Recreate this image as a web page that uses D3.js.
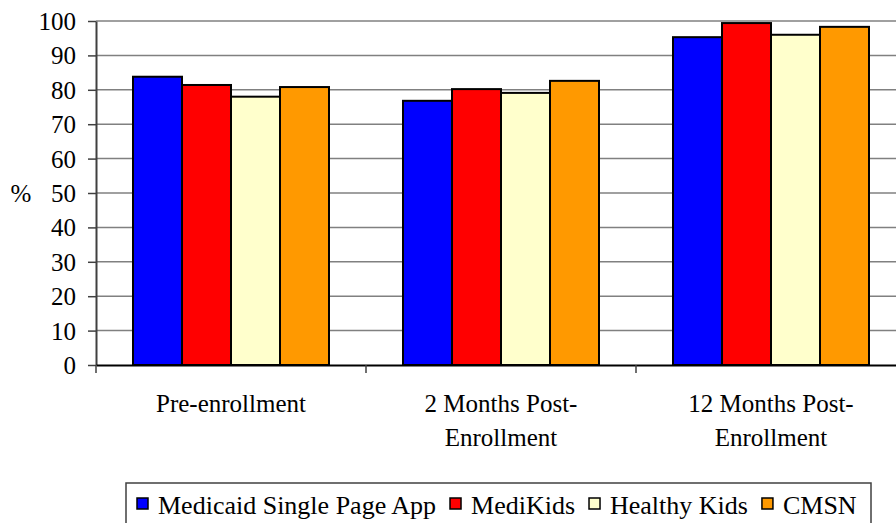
<!DOCTYPE html>
<html><head><meta charset="utf-8">
<script src="https://cdn.jsdelivr.net/npm/d3@7"></script>
<style>body{margin:0;background:#fff;font-family:"Liberation Serif",serif}text{font-family:"Liberation Serif",serif !important}</style>
</head><body>
<svg id="c" width="896" height="523" font-family="Liberation Serif"></svg>
<script>
const categories = [["Pre-enrollment"], ["2 Months Post-", "Enrollment"], ["12 Months Post-", "Enrollment"]];
const series = ["Medicaid Single Page App", "MediKids", "Healthy Kids", "CMSN"];
const colors = ["#0000FF", "#FF0000", "#FFFFCC", "#FF9900"];
const values = [
  [83.8, 81.4, 78.0, 80.8],
  [76.8, 80.2, 79.1, 82.6],
  [95.3, 99.4, 96.0, 98.3]
];
const yTicks = [0, 10, 20, 30, 40, 50, 60, 70, 80, 90, 100];

(function () {
const FF = "Liberation Serif";
const svg = d3.select("#c");
const mLeft = 96, mRight = 906, mTop = 21, mBottom = 365;
const catKeys = categories.map((c, i) => i);
const x0 = d3.scaleBand().domain(catKeys).range([mLeft, mRight]);
const x1 = d3.scaleBand().domain(series).range([0, x0.bandwidth()]).paddingOuter(0.755);
const y = d3.scaleLinear().domain([0, 100]).range([mBottom, mTop]);

// gridlines
svg.append("g").selectAll("line").data(yTicks.filter(d => d > 0)).join("line")
  .attr("x1", mLeft).attr("x2", 896).attr("y1", d => y(d)).attr("y2", d => y(d))
  .attr("stroke", "#808080").attr("stroke-width", 1.5);

// bars
const g = svg.append("g");
values.forEach((row, ci) => {
  g.append("g").selectAll("rect").data(row).join("rect")
    .attr("x", (d, si) => x0(ci) + x1(series[si]))
    .attr("y", d => y(d))
    .attr("width", x1.bandwidth())
    .attr("height", d => y(0) - y(d))
    .attr("fill", (d, si) => colors[si])
    .attr("stroke", "#000").attr("stroke-width", 2);
});

// y axis
const yAxis = d3.axisLeft(y).tickValues(yTicks).tickSize(8).tickPadding(12).tickSizeOuter(0);
const ya = svg.append("g").attr("transform", `translate(${mLeft},0)`).call(yAxis);
ya.attr("font-family", FF).attr("font-size", 25);
ya.select(".domain").attr("stroke", "#404040").attr("stroke-width", 2);
ya.selectAll(".tick line").attr("stroke", "#404040").attr("stroke-width", 1.5);
ya.selectAll("text").attr("font-family", FF).attr("font-size", 25).attr("fill", "#000").attr("dy", "0.34em");

// x axis
const xAxis = d3.axisBottom(x0).tickSize(0).tickFormat(() => "");
const xa = svg.append("g").attr("transform", `translate(0,${mBottom})`).call(xAxis);
xa.attr("font-family", FF);
xa.select(".domain").attr("stroke", "#000").attr("stroke-width", 2);
xa.selectAll(".tick").remove();
svg.append("g").selectAll("line").data(catKeys.concat([catKeys.length])).join("line")
  .attr("x1", d => mLeft + d * x0.step()).attr("x2", d => mLeft + d * x0.step())
  .attr("y1", mBottom).attr("y2", mBottom + 8).attr("stroke", "#404040").attr("stroke-width", 1.5);

// category labels
categories.forEach((lines, ci) => {
  const cx = x0(ci) + x0.bandwidth() / 2;
  const t = svg.append("text").attr("font-family", FF).attr("font-size", 25)
    .attr("text-anchor", "middle").attr("x", cx).attr("y", 412);
  lines.forEach((l, li) => t.append("tspan").attr("x", cx).attr("dy", li ? 34 : 0).text(l));
});

// y title
svg.append("text").attr("font-family", FF).attr("font-size", 25).attr("x", 21).attr("y", y(50))
  .attr("dy", "0.34em").attr("text-anchor", "middle").text("%");

// legend
const lg = svg.append("g");
lg.append("rect").attr("x", 126).attr("y", 483).attr("width", 745).attr("height", 60)
  .attr("fill", "#fff").attr("stroke", "#404040").attr("stroke-width", 1.5);
let lx = 137;
series.forEach((s, i) => {
  lg.append("rect").attr("x", lx).attr("y", 498).attr("width", 11).attr("height", 11)
    .attr("fill", colors[i]).attr("stroke", "#000").attr("stroke-width", 1.5);
  const t = lg.append("text").attr("font-family", FF).attr("font-size", 26)
    .attr("x", lx + 21).attr("y", 514).text(s);
  lx += 21 + t.node().getComputedTextLength() + 14;
});
})();
</script>
</body></html>
